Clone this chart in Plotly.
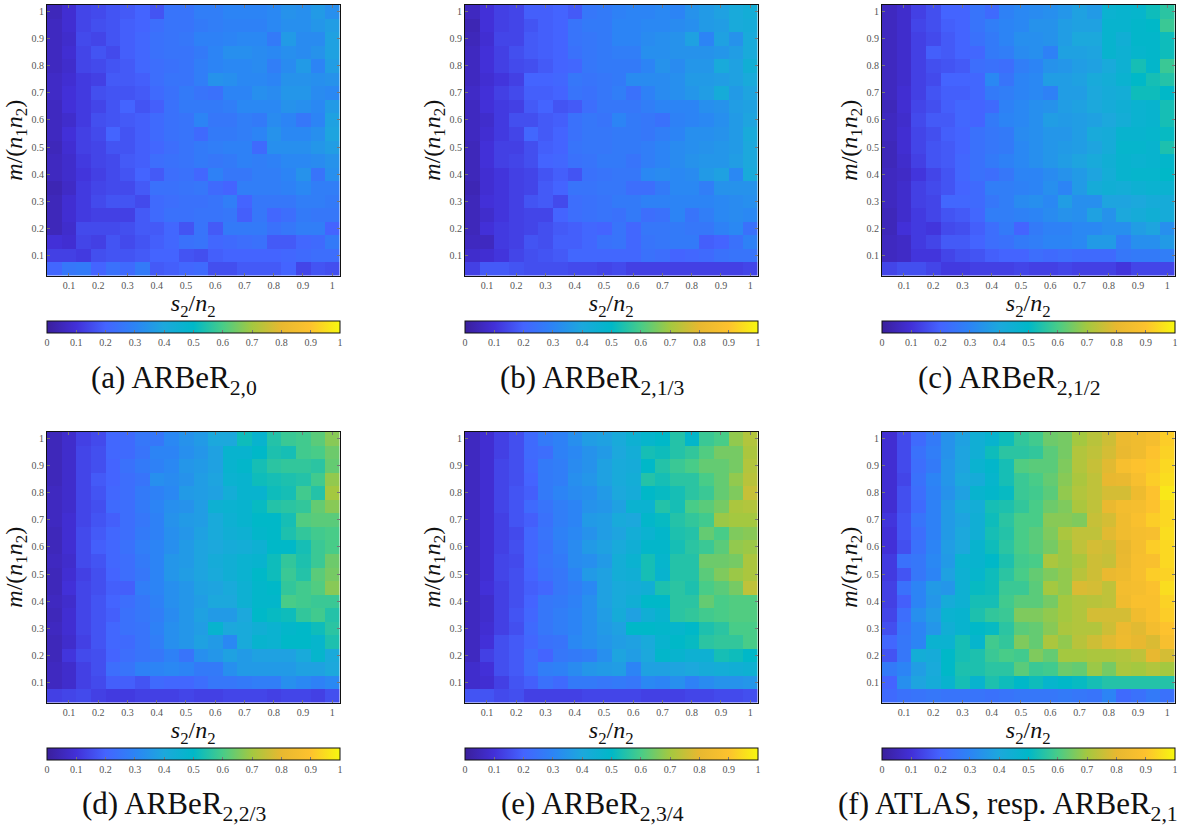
import plotly.graph_objects as go

S2_N2 = [0.05,0.10,0.15,0.20,0.25,0.30,0.35,0.40,0.45,0.50,0.55,0.60,0.65,0.70,0.75,0.80,0.85,0.90,0.95,1.00]
M_N1N2 = [1.00,0.95,0.90,0.85,0.80,0.75,0.70,0.65,0.60,0.55,0.50,0.45,0.40,0.35,0.30,0.25,0.20,0.15,0.10,0.05]
TICKS = [0.1,0.2,0.3,0.4,0.5,0.6,0.7,0.8,0.9,1]
TICK_TEXT = ["0.1","0.2","0.3","0.4","0.5","0.6","0.7","0.8","0.9","1"]
CB_TICKS = [0,0.1,0.2,0.3,0.4,0.5,0.6,0.7,0.8,0.9,1]
CB_TEXT = ["0","0.1","0.2","0.3","0.4","0.5","0.6","0.7","0.8","0.9","1"]
CAPTIONS = ["(a) ARBeR<sub>2,0</sub>","(b) ARBeR<sub>2,1/3</sub>","(c) ARBeR<sub>2,1/2</sub>",
            "(d) ARBeR<sub>2,2/3</sub>","(e) ARBeR<sub>2,3/4</sub>","(f) ATLAS, resp. ARBeR<sub>2,1</sub>"]

# values in percent, rows from m/(n1 n2)=1 (top) down to 0.05
panel_a = [
[5,9,14,15,17,18,20,17,25,25,28,28,30,30,30,31,34,33,36,33],
[6,9,14,16,17,19,20,23,25,25,27,28,29,29,29,31,33,33,35,37],
[6,8,15,14,17,19,21,24,25,26,29,29,30,31,31,27,36,32,32,38],
[6,9,14,17,15,19,21,24,25,25,27,30,33,33,32,31,33,32,34,38],
[6,8,14,15,17,18,21,23,24,25,28,30,31,31,32,28,32,36,30,37],
[7,9,12,13,18,18,19,23,25,25,28,34,33,31,31,30,34,34,33,34],
[7,10,12,16,17,17,18,22,24,27,25,24,30,30,33,32,35,35,32,31],
[6,10,12,14,17,20,17,19,24,27,27,27,28,31,31,31,34,33,31,36],
[6,8,12,16,17,18,19,22,24,25,30,26,26,28,27,32,30,26,30,38],
[6,10,13,15,20,17,19,22,24,25,22,27,27,28,30,34,31,31,33,39],
[5,9,13,14,17,17,19,21,23,25,27,28,29,29,22,33,33,33,35,37],
[6,8,12,14,15,18,19,23,24,25,27,26,27,29,28,29,31,31,32,34],
[6,8,11,13,15,17,20,18,23,24,21,29,26,26,28,28,30,34,25,33],
[4,7,12,14,15,15,18,24,24,25,26,22,20,28,28,28,29,31,28,28],
[5,9,12,15,17,17,15,22,23,24,24,25,28,20,26,26,26,28,28,27],
[5,9,12,13,13,13,18,22,24,24,25,25,26,19,26,21,23,27,26,26],
[5,8,15,15,15,16,18,18,21,17,25,18,27,27,27,24,26,28,28,20],
[10,9,14,13,17,15,17,19,21,24,25,21,22,23,24,18,18,21,22,27],
[13,13,12,16,17,17,18,20,20,17,16,19,20,20,20,20,21,22,23,23],
[21,26,27,20,24,22,27,18,19,21,22,16,16,18,18,18,20,14,17,16],
]
panel_b = [
[6,10,13,14,19,19,20,18,26,27,29,30,30,31,30,34,36,38,41,43],
[4,10,13,14,17,19,20,25,27,27,30,30,31,31,32,33,36,37,41,42],
[5,9,14,14,18,19,20,25,26,27,30,30,32,33,34,38,30,38,34,41],
[6,10,13,16,18,19,20,24,26,27,28,28,33,33,34,34,34,35,37,41],
[6,10,13,15,16,18,20,21,26,27,27,27,30,34,32,35,35,41,38,44],
[6,9,11,13,20,20,21,26,25,26,27,32,32,32,33,36,36,37,38,41],
[7,10,13,15,19,19,20,25,24,26,28,24,29,32,33,35,37,42,36,39],
[6,10,12,13,18,20,17,18,23,26,26,26,28,30,30,30,33,34,37,38],
[6,8,12,16,16,18,19,24,26,25,30,27,26,24,29,30,31,33,36,39],
[6,9,12,14,21,18,20,24,26,26,27,27,26,28,30,33,33,34,36,41],
[5,10,13,13,16,19,20,25,26,26,27,27,28,30,32,33,34,35,36,40],
[5,10,13,14,16,20,21,24,25,27,27,25,28,30,32,34,35,35,37,40],
[5,9,11,13,14,17,19,17,24,25,26,26,31,32,31,32,36,38,31,41],
[4,9,11,13,14,18,20,25,25,26,26,23,23,27,31,31,28,34,34,34],
[5,10,11,13,17,18,15,23,24,25,27,27,29,29,30,30,30,31,32,33],
[5,8,11,13,14,14,20,23,24,25,24,27,23,24,30,25,28,31,32,31],
[5,10,12,13,14,16,18,19,21,20,25,21,26,26,27,26,26,29,31,24],
[6,6,12,13,17,16,19,19,21,24,25,21,25,26,27,27,19,20,24,29],
[8,9,11,14,16,17,18,21,21,21,21,21,24,23,20,21,22,24,25,25],
[13,18,18,17,16,16,16,15,15,14,15,13,13,13,13,13,13,13,13,14],
]
panel_c = [
[6,8,13,16,20,20,25,22,29,31,32,33,35,38,36,46,47,48,52,56],
[6,8,14,16,19,20,25,28,30,31,34,34,37,38,38,47,47,49,50,58],
[6,8,13,15,18,20,24,27,30,33,33,34,37,40,40,47,44,49,49,52],
[6,8,13,19,18,20,21,27,28,32,33,29,38,38,39,47,45,48,49,52],
[6,8,13,16,17,18,23,24,23,28,30,34,35,37,38,41,45,53,49,58],
[6,8,13,15,20,20,21,31,25,30,31,37,37,38,41,43,46,50,53,55],
[6,9,13,17,19,19,21,27,28,30,31,29,37,37,40,42,43,52,52,50],
[5,9,14,16,19,21,20,22,29,31,33,34,37,38,40,42,44,46,47,53],
[6,8,15,18,18,21,20,27,30,31,33,37,36,37,38,40,43,46,47,53],
[6,9,14,16,19,20,24,26,27,32,33,35,35,37,41,42,47,47,48,51],
[5,9,14,17,18,20,24,26,27,31,33,35,36,37,39,42,48,48,47,54],
[5,8,13,17,18,21,24,27,29,31,33,35,37,39,41,44,47,46,47,49],
[6,7,11,14,17,21,24,23,26,30,30,32,34,36,39,43,47,48,48,50],
[6,8,13,15,17,20,22,28,28,29,30,33,30,36,42,44,43,45,46,46],
[6,8,13,14,21,21,22,26,28,32,33,31,37,33,33,39,39,40,42,42],
[5,8,12,14,17,18,21,28,28,29,30,32,34,33,38,34,40,42,44,42],
[5,10,12,11,15,16,19,23,27,20,27,29,29,31,31,33,33,37,39,33],
[6,7,12,14,18,18,20,23,24,27,28,30,30,31,36,36,28,33,33,36],
[6,7,11,11,14,16,17,19,20,20,23,22,23,22,22,22,26,27,27,28],
[14,16,16,14,12,12,13,13,13,14,13,13,14,13,13,13,11,14,14,14],
]
panel_d = [
[5,8,13,15,21,22,26,26,31,34,36,40,40,52,47,55,58,59,62,67],
[5,8,14,16,21,22,25,30,30,33,35,38,47,47,50,54,53,59,60,64],
[5,8,14,16,20,24,27,29,31,35,36,38,47,49,53,56,57,57,56,63],
[5,8,14,18,20,23,25,33,32,34,37,39,46,47,52,53,54,55,59,68],
[6,8,14,17,21,23,27,29,31,36,37,38,43,47,47,52,53,59,55,70],
[6,8,14,16,22,23,27,30,33,34,37,45,46,47,51,55,56,57,63,67],
[6,9,14,17,19,23,26,29,34,36,37,41,45,47,50,50,53,61,62,62],
[5,9,15,18,21,23,27,29,33,35,38,41,44,45,49,50,54,57,59,60],
[5,9,15,19,21,24,28,30,33,36,39,40,42,43,45,50,50,53,58,60],
[6,8,15,17,21,23,27,30,35,36,39,42,44,46,47,52,57,54,58,64],
[5,9,13,16,20,23,26,30,35,37,39,41,44,46,50,52,58,55,62,65],
[5,10,14,16,19,19,28,30,33,35,38,39,41,45,49,50,57,59,61,67],
[6,8,14,17,20,23,26,29,33,35,37,40,40,45,49,49,60,59,58,58],
[5,9,14,17,19,24,26,28,32,35,38,36,36,40,50,51,52,57,59,55],
[6,9,14,17,21,24,25,29,33,35,37,47,40,41,44,46,49,50,52,56],
[5,8,13,17,21,22,25,28,33,35,38,36,31,41,47,46,50,50,48,54],
[5,11,15,16,20,23,25,26,29,25,33,35,38,36,38,38,38,41,48,41],
[6,8,13,16,23,25,29,30,31,30,27,27,33,36,36,36,36,38,38,40],
[6,8,13,15,19,19,17,22,21,21,23,26,26,27,28,28,33,31,29,31],
[13,14,15,13,12,12,13,13,13,14,13,13,14,14,14,13,14,14,13,16],
]
panel_e = [
[6,9,13,16,22,27,29,33,37,38,41,45,48,50,55,49,58,60,68,72],
[6,9,13,16,22,23,29,31,34,36,40,43,53,52,55,57,61,65,65,71],
[6,9,14,16,21,27,28,32,34,38,41,42,50,55,58,60,63,63,65,72],
[6,9,14,16,20,27,28,33,35,38,41,43,55,53,56,56,60,63,68,73],
[6,9,14,17,19,27,30,32,33,36,40,42,50,51,53,56,58,63,66,75],
[6,9,14,17,22,25,28,30,34,35,38,46,46,55,53,60,62,65,71,72],
[6,9,13,17,19,24,28,30,36,37,41,40,49,51,55,57,59,69,70,70],
[6,9,13,15,21,25,29,31,34,37,39,43,46,49,54,55,63,60,66,67],
[6,9,13,16,21,24,28,32,36,38,41,44,49,49,53,56,58,62,68,69],
[6,9,14,15,21,25,27,32,33,36,43,46,53,48,55,55,64,64,65,71],
[6,9,14,16,20,24,26,30,36,38,43,44,53,47,55,55,62,66,69,71],
[6,10,13,16,19,21,26,28,31,38,41,42,44,54,56,54,60,62,65,74],
[6,8,13,16,20,26,27,29,33,38,41,44,50,50,56,56,63,60,61,61],
[6,8,13,17,21,26,28,30,33,37,42,38,44,47,56,57,59,60,61,61],
[6,9,13,16,22,26,28,30,33,36,38,50,50,49,48,50,54,56,60,60],
[6,10,16,18,21,24,25,31,33,35,37,38,41,47,50,51,56,57,57,60],
[6,13,16,18,23,20,26,27,28,33,39,37,40,49,47,45,45,53,52,50],
[8,10,16,18,23,28,29,32,35,36,37,30,38,38,39,40,42,43,44,45],
[8,9,13,17,19,24,22,27,27,26,27,26,31,30,33,29,32,34,34,35],
[17,17,15,16,13,13,13,13,14,14,14,14,13,13,13,14,14,15,15,16],
]
panel_f = [
[9,15,22,27,34,38,44,47,52,57,59,64,65,70,73,76,82,84,86,92],
[9,15,24,28,34,39,44,52,56,56,57,62,65,72,74,77,81,84,90,93],
[9,15,23,27,35,39,46,49,53,61,62,62,66,72,75,79,87,90,91,94],
[9,14,24,30,35,40,42,48,53,58,60,63,67,71,74,80,81,87,92,95],
[9,16,23,29,34,38,47,49,51,58,59,62,68,72,74,77,77,83,90,97],
[9,16,22,29,36,41,43,53,54,57,60,64,66,71,74,81,85,86,90,94],
[11,17,25,29,36,39,44,52,56,60,60,67,67,66,75,77,84,88,92,94],
[10,17,23,29,36,40,44,53,55,60,62,66,71,74,74,79,84,86,87,95],
[10,16,24,30,37,40,47,52,56,60,62,65,69,74,77,76,80,86,92,94],
[12,24,26,31,36,46,47,50,54,59,60,71,69,71,76,75,81,87,88,94],
[12,17,26,30,38,45,48,52,56,60,63,66,68,73,76,81,83,87,92,93],
[13,24,30,36,35,45,51,52,58,58,62,70,68,78,77,74,85,86,89,95],
[13,19,30,35,42,45,53,53,59,62,62,65,70,72,73,74,84,88,88,93],
[14,23,33,37,46,47,54,57,58,66,66,68,70,72,77,77,77,84,88,92],
[16,25,30,35,44,47,50,51,56,62,63,67,71,72,72,76,82,79,85,90],
[21,26,30,46,46,53,48,59,57,66,63,71,68,73,76,79,83,80,78,87],
[17,26,43,42,50,53,54,58,60,59,66,63,70,70,71,71,72,74,80,77],
[27,30,37,41,50,54,54,56,56,62,58,59,64,63,69,65,71,70,72,70],
[20,33,39,42,47,53,47,54,52,50,52,48,50,51,53,55,55,55,55,55],
[22,24,25,26,25,25,25,24,25,26,26,26,27,26,25,30,22,24,27,24],
]
PANELS = [panel_a,panel_b,panel_c,panel_d,panel_e,panel_f]

COLORSCALE = [[0,"#3a1f9c"],[0.1,"#4230d8"],[0.2,"#4464ff"],[0.3,"#2c84f5"],[0.4,"#1ca8dc"],
              [0.5,"#00b8c8"],[0.6,"#48cc88"],[0.7,"#a4c840"],[0.8,"#e8b830"],[0.9,"#fdc22e"],[1,"#f7f80f"]]

W,H = 1193,825
LEFT = [47,465,882]; WIDTH = 292.5
TOP = [5,432]; HEIGHT = 270.5
CB_TOP = [321,748]; CB_H = 12
CAP_X = [174,592,1009,174,592,1008]; CAP_Y = [380,380,380,806,806,806]
SERIF = "Liberation Serif"
TICKFONT = dict(family=SERIF,size=10,color="#555555")
TITLE_FONT = dict(family=SERIF,size=24,color="#111111")

fig = go.Figure()
layout = dict(width=W,height=H,margin=dict(l=0,r=0,t=0,b=0),paper_bgcolor="white",plot_bgcolor="white",
              showlegend=False,font=dict(family=SERIF),annotations=[])
for i,z in enumerate(PANELS):
    r,c = divmod(i,3)
    s = "" if i==0 else str(i+1)
    fig.add_trace(go.Heatmap(x=S2_N2,y=M_N1N2,z=[[v/100 for v in row] for row in z],
                             coloraxis="coloraxis"+s,xaxis="x"+s,yaxis="y"+s,xgap=0,ygap=0,hoverongaps=False))
    x0 = LEFT[c]/W; x1 = (LEFT[c]+WIDTH)/W
    y1 = 1-TOP[r]/H; y0 = 1-(TOP[r]+HEIGHT)/H
    ax = dict(range=[0.025,1.025],tickvals=TICKS,ticktext=TICK_TEXT,ticks="inside",ticklen=3,tickwidth=1,
              tickcolor="#777777",tickfont=TICKFONT,showgrid=False,zeroline=False,showline=True,mirror="ticks",
              linecolor="#111111",linewidth=1,automargin=False)
    layout["xaxis"+s] = dict(ax,domain=[x0,x1],anchor="y"+s,
        title=dict(text="<i>s</i><sub>2</sub>/<i>n</i><sub>2</sub>",font=TITLE_FONT,standoff=2))
    layout["yaxis"+s] = dict(ax,domain=[y0,y1],anchor="x"+s,
        title=dict(text="<i>m</i>/(<i>n</i><sub>1</sub><i>n</i><sub>2</sub>)",font=TITLE_FONT,standoff=1))
    layout["coloraxis"+s] = dict(cmin=0,cmax=1,colorscale=COLORSCALE,colorbar=dict(
        orientation="h",x=x0,xanchor="left",xref="paper",y=1-CB_TOP[r]/H,yanchor="top",yref="paper",
        len=WIDTH/W,lenmode="fraction",thickness=CB_H,thicknessmode="pixels",xpad=0,ypad=0,
        tickvals=CB_TICKS,ticktext=CB_TEXT,ticks="inside",ticklen=3,tickcolor="#777777",tickwidth=1,
        tickfont=TICKFONT,outlinecolor="#111111",outlinewidth=1,borderwidth=0))
    layout["annotations"].append(dict(text=CAPTIONS[i],xref="paper",yref="paper",x=CAP_X[i]/W,y=1-CAP_Y[i]/H,
        xanchor="center",yanchor="middle",showarrow=False,font=dict(family=SERIF,size=31,color="#111111")))
fig.update_layout(**layout)
fig.write_html("out.html",config=dict(displayModeBar=False),
               post_script="document.body.style.margin='0';document.body.style.overflow='hidden';")
